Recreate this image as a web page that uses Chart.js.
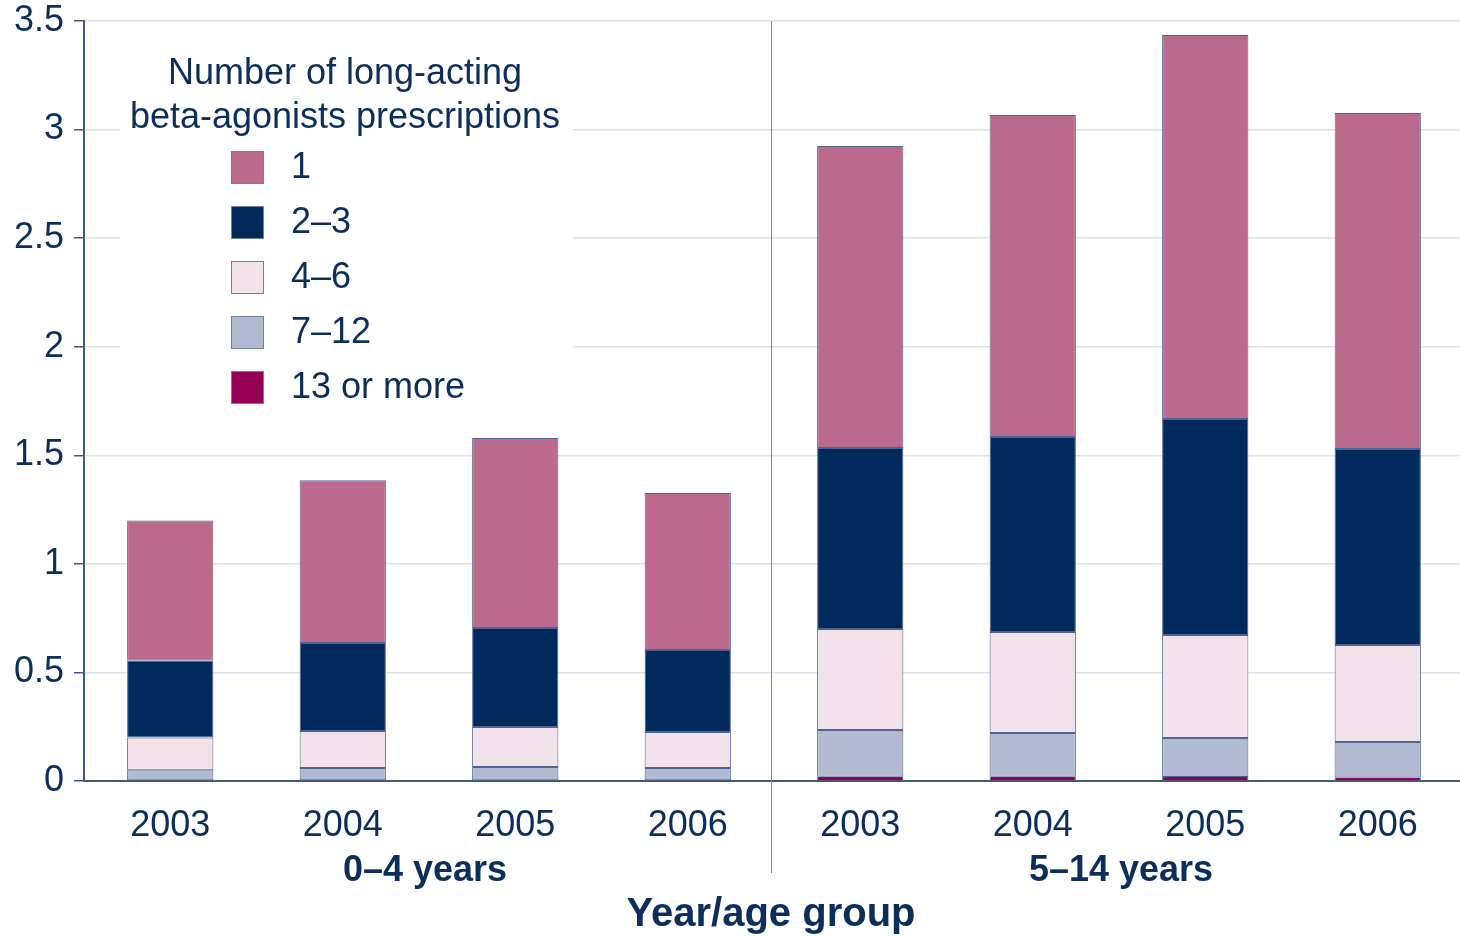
<!DOCTYPE html>
<html>
<head>
<meta charset="utf-8">
<script src="https://cdn.jsdelivr.net/npm/chart.js@4.4.1/dist/chart.umd.min.js"></script>
<style>
html,body{margin:0;padding:0;background:#fff;overflow:hidden;}
#wrap{width:1460px;height:936px;overflow:hidden;}
</style>
</head>
<body>
<div id="wrap"><canvas id="c" width="1464" height="936"></canvas></div>
<script>
const categories = ['2003','2004','2005','2006','2003','2004','2005','2006'];
const groupLabels = ['0–4 years','5–14 years'];
const axisTitle = 'Year/age group';
const legendTitle = ['Number of long-acting','beta-agonists prescriptions'];
const seriesLabels = ['13 or more','7–12','4–6','2–3','1'];
const s13 = [0, 0, 0, 0, 0.020, 0.020, 0.018, 0.016];
const s712 = [0.050, 0.060, 0.064, 0.060, 0.215, 0.201, 0.180, 0.164];
const s46 = [0.150, 0.170, 0.185, 0.166, 0.465, 0.465, 0.474, 0.446];
const s23 = [0.355, 0.405, 0.456, 0.377, 0.834, 0.898, 0.995, 0.903];
const s1 = [0.645, 0.750, 0.875, 0.723, 1.390, 1.483, 1.769, 1.547];
const seriesColors = ['#960055','#b2bad2','#f1e1e8','#002a5c','#bb6a8e'];
const yTicks = [0,0.5,1,1.5,2,2.5,3,3.5];

const NAVY = '#0b2e5c';
const FONT = '"Liberation Sans", Arial, sans-serif';

const seriesData = [s13, s712, s46, s23, s1];

const overlay = {
  id: 'overlay',
  afterDraw(chart) {
    const ctx = chart.ctx;
    const x = chart.scales.x;
    const area = chart.chartArea;
    ctx.save();
    const divX = Math.round((x.getPixelForValue(3) + x.getPixelForValue(4)) / 2) - 2.5;
    ctx.strokeStyle = '#7d8ca6';
    ctx.lineWidth = 1;
    ctx.beginPath();
    ctx.moveTo(divX, area.top);
    ctx.lineTo(divX, 873);
    ctx.stroke();
    ctx.fillStyle = NAVY;
    ctx.textAlign = 'center';
    ctx.textBaseline = 'middle';
    ctx.font = 'bold 36px ' + FONT;
    ctx.fillText(groupLabels[0], (x.getPixelForValue(1) + x.getPixelForValue(2)) / 2 - 4, 871);
    ctx.fillText(groupLabels[1], (x.getPixelForValue(5) + x.getPixelForValue(6)) / 2 + 2, 871);
    ctx.font = 'bold 40px ' + FONT;
    ctx.fillText(axisTitle, 771, 915);
    ctx.fillStyle = '#ffffff';
    ctx.fillRect(120, 36, 453, 384);
    ctx.fillStyle = NAVY;
    ctx.font = '36px ' + FONT;
    ctx.fillText(legendTitle[0], 345, 74);
    ctx.fillText(legendTitle[1], 345, 118);
    ctx.textAlign = 'left';
    const ds = chart.data.datasets;
    for (let i = 0; i < ds.length; i++) {
      const d = ds[ds.length - 1 - i];
      const cy = 167 + i * 55;
      ctx.fillStyle = d.backgroundColor;
      ctx.fillRect(231, cy - 16, 33, 33);
      ctx.strokeStyle = '#6f82a3';
      ctx.lineWidth = 1;
      ctx.strokeRect(231.5, cy - 15.5, 32, 32);
      ctx.fillStyle = NAVY;
      ctx.fillText(d.label, 291, cy + 1);
    }
    ctx.restore();
  }
};

new Chart(document.getElementById('c'), {
  type: 'bar',
  data: {
    labels: categories,
    datasets: seriesLabels.map((lab, i) => ({
      label: lab,
      data: seriesData[i],
      backgroundColor: seriesColors[i],
      borderColor: '#4d6590',
      borderWidth: i === 0 ? { top: 0, left: 1, right: 1, bottom: 0 } : 1,
      borderSkipped: false,
      barPercentage: 0.5,
      categoryPercentage: 1.0
    }))
  },
  options: {
    responsive: false,
    animation: false,
    layout: { padding: { top: 21, right: 0, bottom: 0, left: 0 } },
    plugins: { legend: { display: false }, tooltip: { enabled: false } },
    scales: {
      x: {
        stacked: true,
        grid: { display: true, drawOnChartArea: false, drawTicks: false },
        border: { display: true, color: '#3f5a85', width: 2 },
        ticks: { color: NAVY, font: { size: 36, family: FONT }, padding: 23, maxRotation: 0, autoSkip: false },
        afterFit(s) { s.height = 155; s.paddingLeft = 0; s.paddingRight = 0; }
      },
      y: {
        stacked: true,
        min: 0,
        max: 3.5,
        afterBuildTicks(s) { s.ticks = yTicks.map(v => ({ value: v })); },
        grid: { color: '#dde1eb', lineWidth: 1.5, tickLength: 10, tickColor: '#3f5a85' },
        border: { display: true, color: '#3f5a85', width: 2 },
        ticks: { color: NAVY, font: { size: 36, family: FONT }, padding: 10, callback: v => String(v) },
        afterFit(s) { s.width = 84; s.paddingTop = 0; s.paddingBottom = 0; }
      }
    }
  },
  plugins: [overlay]
});
</script>
</body>
</html>
